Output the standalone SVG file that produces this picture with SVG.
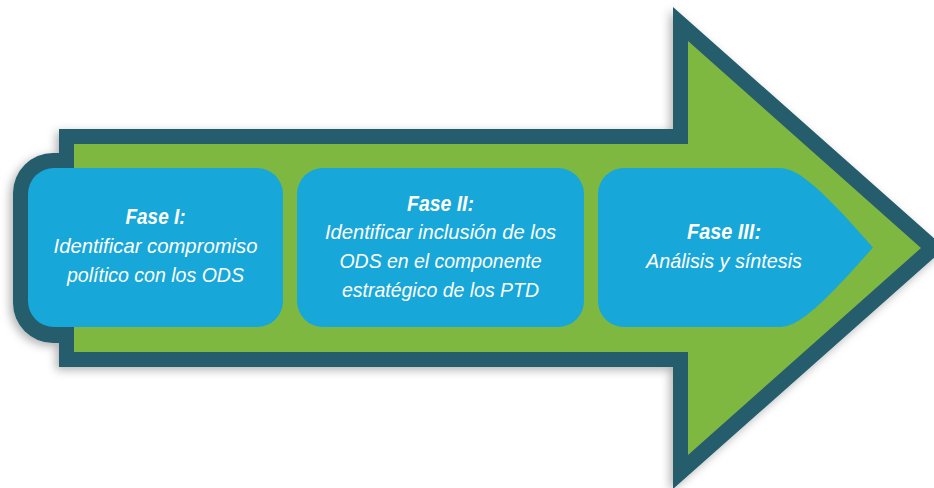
<svg xmlns="http://www.w3.org/2000/svg" width="934" height="488" viewBox="0 0 934 488">
<defs>
<filter id="sh" x="-10%" y="-10%" width="120%" height="120%">
<feDropShadow dx="-3" dy="3" stdDeviation="5" flood-color="#000" flood-opacity="0.3"/>
</filter>
<style>
.dark{fill:#255d6d}
.green{fill:#7fb841}
.box{fill:#17a7d8}
text{font-family:"Liberation Sans",Arial,sans-serif;font-style:italic;fill:#fff;text-anchor:middle}
.t{font-size:22px;font-weight:bold}
.b{font-size:21px}
</style>
</defs>
<rect width="934" height="488" fill="#fff"/>
<g id="arrow">
<g filter="url(#sh)">
<rect class="dark" x="13" y="153" width="120" height="190" rx="40"/>
<polygon class="dark" points="59,129 673,129 673,7 945,248 673,489 673,367 59,367"/>
</g>
<polygon class="green" points="74,144 688,144 688,41 921,248 688,455 688,352 74,352"/>
</g>
<g id="connectors"/>
<g id="fase1">
<rect class="box" x="28" y="168" width="255" height="159" rx="26"/>
<text class="t" x="155.5" y="224" textLength="60" lengthAdjust="spacingAndGlyphs">Fase I:</text>
<text class="b" x="155.5" y="253" textLength="204" lengthAdjust="spacingAndGlyphs">Identificar compromiso</text>
<text class="b" x="155.5" y="282" textLength="177" lengthAdjust="spacingAndGlyphs">político con los ODS</text>
</g>
<g id="fase2">
<rect class="box" x="297" y="168" width="287" height="159" rx="26"/>
<text class="t" x="440.5" y="211" textLength="67" lengthAdjust="spacingAndGlyphs">Fase II:</text>
<text class="b" x="440.5" y="239" textLength="231" lengthAdjust="spacingAndGlyphs">Identificar inclusión de los</text>
<text class="b" x="440.5" y="268" textLength="202" lengthAdjust="spacingAndGlyphs">ODS en el componente</text>
<text class="b" x="440.5" y="297" textLength="197" lengthAdjust="spacingAndGlyphs">estratégico de los PTD</text>
</g>
<g id="fase3">
<path class="box" d="M624,168 H778 C795,168 812,178 873,247.5 C812,317 795,327 778,327 H624 A26,26 0 0 1 598,301 V194 A26,26 0 0 1 624,168 Z"/>
<text class="t" x="724" y="239" textLength="74" lengthAdjust="spacingAndGlyphs">Fase III:</text>
<text class="b" x="724" y="268" textLength="156" lengthAdjust="spacingAndGlyphs">Análisis y síntesis</text>
</g>
</svg>
